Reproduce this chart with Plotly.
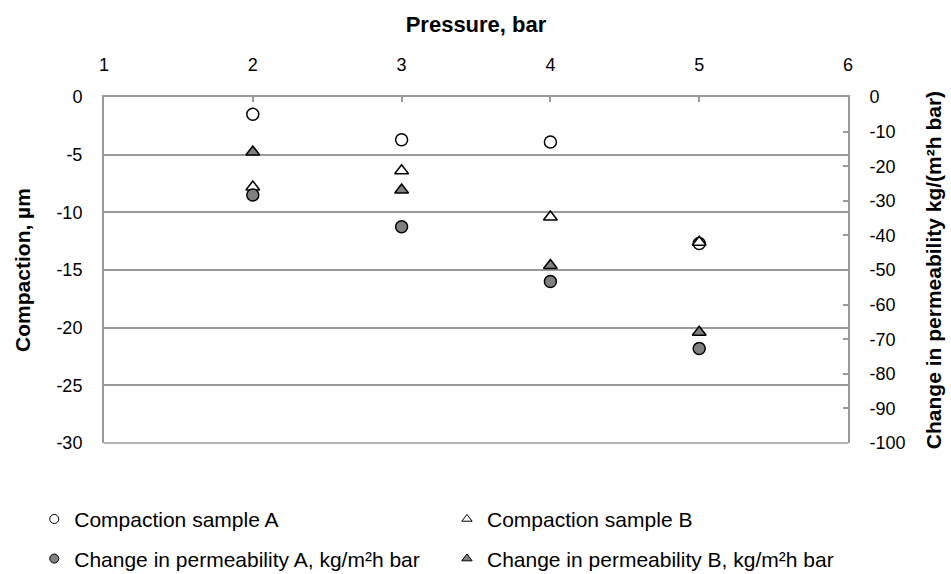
import plotly.graph_objects as go

# Pressure steps (bar)
pressure = [2, 3, 4, 5]

# Compaction, µm (left axis)
compaction_a = [-1.5, -3.7, -3.9, -12.7]
compaction_b = [-7.8, -6.4, -10.4, -12.6]

# Change in permeability, kg/(m²h bar) (right axis)
perm_a = [-28.3, -37.5, -53.3, -72.7]
perm_b = [-15.9, -26.9, -48.7, -68.0]

names = [
    "Compaction sample A",
    "Compaction sample B",
    "Change in permeability A, kg/m²h bar",
    "Change in permeability B, kg/m²h bar",
]

# Axis ticks (hyphen-minus labels)
x_ticks = [1, 2, 3, 4, 5, 6]
left_ticks = [0, -5, -10, -15, -20, -25, -30]
right_ticks = [0, -10, -20, -30, -40, -50, -60, -70, -80, -90, -100]

FONT = "Liberation Sans, Arial, sans-serif"
GRID = "#9a9a9a"
GREY_FILL = "#808080"

series = [
    (compaction_a, "circle", "white", "y"),
    (compaction_b, "triangle-up", "white", "y"),
    (perm_a, "circle", GREY_FILL, "y2"),
    (perm_b, "triangle-up", GREY_FILL, "y2"),
]
legend_ids = ["legend", "legend2", "legend3", "legend4"]

fig = go.Figure()
for (vals, sym, fill, yax), name, leg in zip(series, names, legend_ids):
    fig.add_trace(go.Scatter(
        x=pressure, y=vals, yaxis=yax, mode="markers", name=name,
        showlegend=False,
        marker=dict(symbol=sym, size=12, color=fill,
                    line=dict(color="black", width=1.5)),
    ))
    # smaller key for the legend
    fig.add_trace(go.Scatter(
        x=[None], y=[None], yaxis=yax, mode="markers", name=name,
        showlegend=True, legend=leg,
        marker=dict(symbol=sym, size=9, color=fill,
                    line=dict(color="black", width=1)),
    ))

legend_common = dict(
    orientation="h", xref="container", yref="container",
    xanchor="left", yanchor="top",
    itemclick=False, bgcolor="rgba(0,0,0,0)",
    font=dict(family=FONT, size=21, color="black"),
)
col1, col2 = 0.036, 0.470
row1, row2 = 0.131, 0.062

fig.update_layout(
    width=951, height=574,
    margin=dict(l=104, r=103, t=97, b=131, autoexpand=False),
    paper_bgcolor="white", plot_bgcolor="white",
    font=dict(family=FONT, size=18, color="black"),
    showlegend=True,
    legend=dict(legend_common, x=col1, y=row1),
    legend2=dict(legend_common, x=col2, y=row1),
    legend3=dict(legend_common, x=col1, y=row2),
    legend4=dict(legend_common, x=col2, y=row2),
    xaxis=dict(
        side="top", range=[1, 6], automargin=False,
        tickvals=x_ticks, ticktext=[str(v) for v in x_ticks],
        showgrid=False, zeroline=False,
        showline=True, linecolor=GRID, linewidth=2, mirror=False,
        ticks="inside", ticklen=5, tickcolor=GRID, tickwidth=1.5,
        ticklabelstandoff=17,
        title=dict(text="<b>Pressure, bar</b>", font=dict(size=22), standoff=16),
    ),
    yaxis=dict(
        range=[-30, 0], automargin=False,
        tickvals=left_ticks, ticktext=[str(v) for v in left_ticks],
        showgrid=True, gridcolor=GRID, gridwidth=1.5, zeroline=False,
        showline=True, linecolor=GRID, linewidth=2, mirror=False,
        ticks="", ticklabelstandoff=16,
        title=dict(text="<b>Compaction, µm</b>", font=dict(size=21), standoff=20),
    ),
    yaxis2=dict(
        overlaying="y", side="right", range=[-100, 0], automargin=False,
        tickvals=right_ticks, ticktext=[str(v) for v in right_ticks],
        showgrid=False, zeroline=False,
        showline=True, linecolor=GRID, linewidth=2,
        ticks="inside", ticklen=5, tickcolor=GRID, tickwidth=1.5,
        ticklabelstandoff=16,
        title=dict(text="<b>Change in permeability kg/(m²h bar)</b>",
                   font=dict(size=21), standoff=22),
    ),
)

# bottom border of the plotting area
fig.add_shape(type="line", xref="paper", yref="paper", x0=0, x1=1, y0=0, y1=0,
              line=dict(color=GRID, width=1.5))

fig.write_html("out.html")
